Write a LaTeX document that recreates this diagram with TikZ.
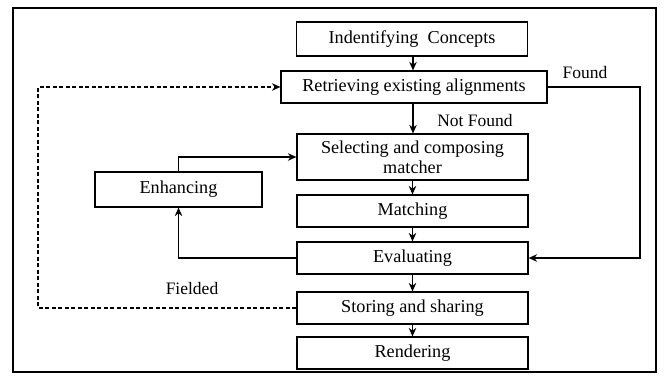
\documentclass[tikz,border=0pt]{standalone}
\usepackage{fontspec}
\setmainfont{Liberation Serif}
\usetikzlibrary{arrows.meta}
\begin{document}
\begin{tikzpicture}[x=1pt,y=-1pt,
  stepbox/.style={draw, line width=1.2pt, minimum width=231pt, minimum height=32pt,
    inner sep=0pt, align=center, font=\fontsize{18.2}{20}\selectfont},
  lbl/.style={font=\fontsize{17.5}{20}\selectfont, inner sep=0pt},
  flow/.style={line width=1.3pt, -{Stealth[length=8.5pt,width=7.5pt]}},
  back/.style={line width=1.2pt, dash pattern=on 4pt off 2.5pt, -{Stealth[length=8.5pt,width=7.5pt]}}]
  \useasboundingbox (0,0) rectangle (664,379);
  % outer frame
  \draw[line width=1.6pt] (13,8) rectangle (656,372);

  % process steps
  \node[stepbox, minimum height=34pt] (ident) at (412,39) {Indentifying\ \ Concepts};
  \node[stepbox, minimum width=266pt] (retr) at (414,87) {Retrieving existing alignments};
  \node[stepbox, minimum height=46pt] (sel) at (412.5,157) {Selecting and composing\\matcher};
  \node[stepbox] (match) at (412.5,211) {Matching};
  \node[stepbox] (eval) at (412.5,258) {Evaluating};
  \node[stepbox] (store) at (412.5,308) {Storing and sharing};
  \node[stepbox] (rend) at (412.5,353) {Rendering};
  \node[stepbox, minimum width=167pt, minimum height=35pt] (enh) at (178.5,189.5) {Enhancing};

  % bend points
  \coordinate (fr) at (640,87);
  \coordinate (dl) at (38,308);

  % main flow
  \draw[flow] (ident.south -| 413,0) -- (retr.north -| 413,0);
  \draw[flow] (retr.south -| 413,0) -- (sel.north -| 413,0);
  \draw[flow] (sel) -- (match);
  \draw[flow] (match) -- (eval);
  \draw[flow] (eval) -- (store);
  \draw[flow] (store) -- (rend);

  % loops
  \draw[flow] (retr.east) -- (fr) |- (eval.east);
  \draw[flow] (eval.west) -| (enh.south);
  \draw[flow] (enh.north) |- (sel.west);
  \draw[back] (store.west) -- (dl) |- (retr.west);

  % labels
  \node[lbl] (found) at (585,73) {Found};
  \node[lbl] (notfound) at (475,121) {Not Found};
  \node[lbl] (fielded) at (192,289) {Fielded};
\end{tikzpicture}
\end{document}
